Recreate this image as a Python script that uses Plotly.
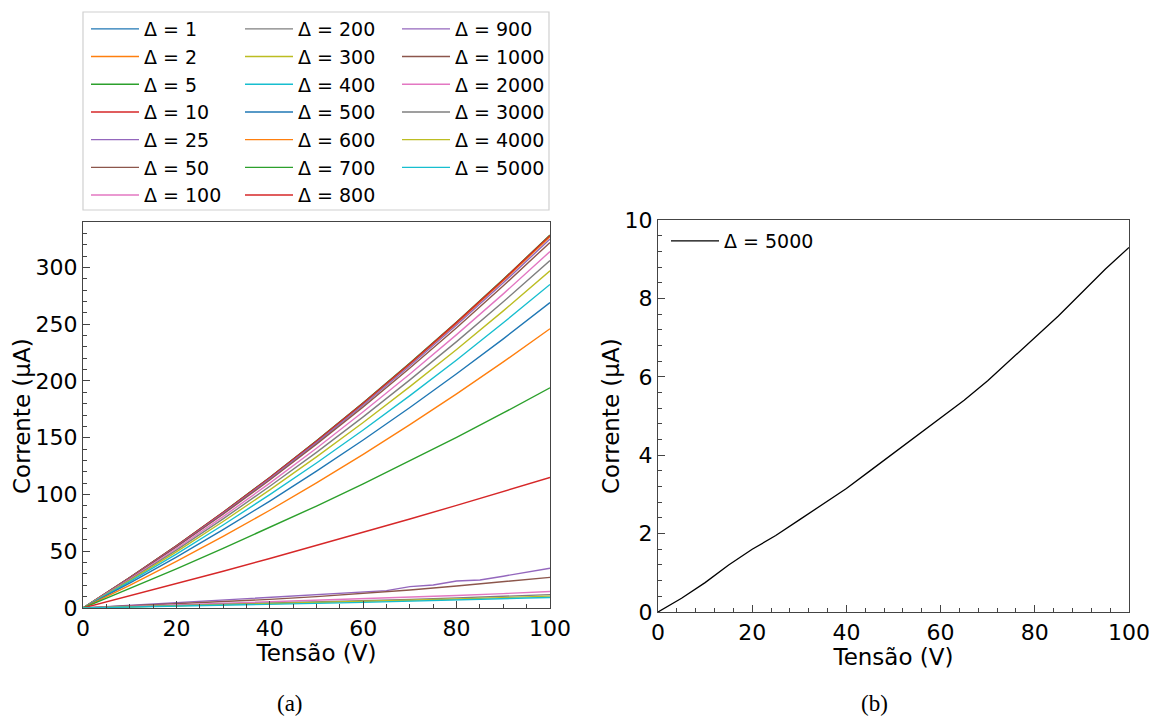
import plotly.graph_objects as go

W, H = 1152, 717

# ---------------- data ----------------
V10 = [0, 10, 20, 30, 40, 50, 60, 70, 80, 90, 100]
V5 = [0, 5, 10, 15, 20, 25, 30, 35, 40, 45, 50, 55, 60, 65, 70, 75, 80, 85, 90, 95, 100]

deltas = ["1", "2", "5", "10", "25", "50", "100", "200", "300", "400",
          "500", "600", "700", "800", "900", "1000", "2000", "3000", "4000", "5000"]

I_1 = [0, 26.7, 54.7, 84.1, 114.9, 147.0, 180.5, 215.3, 251.5, 289.1, 328.0]
I_2 = [0, 26.6, 54.5, 83.9, 114.5, 146.6, 179.9, 214.7, 250.7, 288.2, 327.0]
I_5 = [0, 26.7, 54.8, 84.3, 115.0, 147.2, 180.7, 215.7, 251.9, 289.5, 328.5]
I_10 = [0, 26.8, 54.8, 84.2, 115.0, 147.1, 180.6, 215.4, 251.6, 289.2, 328.2]
I_25 = [0, 26.4, 54.2, 83.4, 113.8, 145.7, 178.8, 213.4, 249.2, 286.4, 325.0]
I_50 = [0, 26.2, 53.7, 82.6, 112.8, 144.3, 177.2, 211.4, 246.9, 283.8, 322.0]
I_100 = [0, 25.5, 52.4, 80.5, 110.0, 140.7, 172.8, 206.1, 240.8, 276.7, 314.0]
I_200 = [0, 24.9, 51.0, 78.5, 107.2, 137.1, 168.4, 200.9, 234.6, 269.7, 306.0]
I_300 = [0, 24.1, 49.5, 76.2, 104.0, 133.1, 163.4, 195.0, 227.7, 261.7, 297.0]
I_400 = [0, 23.2, 47.5, 73.1, 99.8, 127.7, 156.8, 187.1, 218.5, 251.2, 285.0]
I_500 = [0, 21.9, 44.9, 69.0, 94.2, 120.6, 148.0, 176.6, 206.3, 237.1, 269.0]
I_600 = [0, 20.0, 41.0, 63.1, 86.1, 110.3, 135.3, 161.5, 188.6, 216.8, 246.0]
I_700 = [0, 17.0, 34.5, 52.5, 70.9, 89.8, 109.3, 129.5, 150.3, 171.8, 194.0]
I_800 = [0, 10.6, 21.4, 32.4, 43.6, 55.0, 66.6, 78.4, 90.4, 102.6, 115.0]
I_900 = [0, 1.2, 2.4, 3.6, 4.7, 5.9, 7.1, 8.3, 9.5, 10.7, 11.9, 13.1, 13.8,
         15.3, 18.8, 20.3, 23.8, 24.7, 28.0, 31.5, 35.0]
I_1000 = [0, 1.8, 3.7, 5.6, 7.6, 10.0, 12.8, 15.9, 19.4, 23.1, 27.0]
I_2000 = [0, 1.3, 2.6, 3.9, 5.2, 6.6, 8.0, 9.5, 11.0, 12.7, 14.5]
I_3000 = [0, 1.0, 2.1, 3.1, 4.2, 5.3, 6.4, 7.6, 8.9, 10.3, 11.8]
I_4000 = [0, 0.9, 1.9, 2.8, 3.8, 4.7, 5.7, 6.8, 7.9, 9.1, 10.5]
I_5000 = [0, 0.35, 0.75, 1.2, 1.6, 1.95, 2.35, 2.75, 3.15, 3.6, 4.05, 4.5,
          4.95, 5.4, 5.9, 6.45, 7.0, 7.55, 8.15, 8.75, 9.3]

series = [
    (V10, I_1), (V10, I_2), (V10, I_5), (V10, I_10), (V10, I_25), (V10, I_50),
    (V10, I_100), (V10, I_200), (V10, I_300), (V10, I_400), (V10, I_500),
    (V10, I_600), (V10, I_700), (V10, I_800), (V5, I_900), (V10, I_1000),
    (V10, I_2000), (V10, I_3000), (V10, I_4000), (V5, I_5000),
]

colors = ["#1f77b4", "#ff7f0e", "#2ca02c", "#d62728", "#9467bd",
          "#8c564b", "#e377c2", "#7f7f7f", "#bcbd22", "#17becf"]

# ---------------- helpers ----------------
def px(x):
    return x / W

def py(y):
    return 1 - y / H

FONT = "DejaVu Sans"

fig = go.Figure()

legend_names = ["legend", "legend2", "legend3"]
for i, ((xv, yv), d) in enumerate(zip(series, deltas)):
    fig.add_trace(go.Scatter(
        x=xv, y=yv, mode="lines", name=f"Δ = {d}",
        line=dict(color=colors[i % 10], width=1.4),
        xaxis="x", yaxis="y",
        legend=legend_names[i // 7],
    ))

fig.add_trace(go.Scatter(
    x=V5, y=I_5000, mode="lines", name="Δ = 5000",
    line=dict(color="black", width=1.3),
    xaxis="x2", yaxis="y2", legend="legend4",
))

axis_common = dict(
    showgrid=False, zeroline=False, showline=True, mirror=True,
    linecolor="#444", linewidth=1.2,
    ticks="inside", ticklen=7, tickwidth=1.2, tickcolor="#444",
    tickfont=dict(family=FONT, size=22, color="black"),
    automargin=False,
)

TITLE_FONT = dict(family=FONT, size=23, color="black")

leg_common = dict(
    font=dict(family=FONT, size=19, color="black"),
    bgcolor="rgba(0,0,0,0)", borderwidth=0,
    xanchor="left", yanchor="top", tracegroupgap=0,
    itemwidth=48,
)

fig.update_layout(
    width=W, height=H,
    margin=dict(l=0, r=0, t=0, b=0),
    paper_bgcolor="white", plot_bgcolor="white",
    showlegend=True,
    xaxis=dict(domain=[px(83), px(550)], range=[0, 100], anchor="y",
               dtick=20, minor=dict(dtick=5, ticks="inside", ticklen=4, tickcolor="#444"),
               title=dict(text="Tensão (V)", font=TITLE_FONT, standoff=3),
               **axis_common),
    yaxis=dict(domain=[py(608), py(222)], range=[0, 340], anchor="x",
               dtick=50, minor=dict(dtick=10, ticks="inside", ticklen=4, tickcolor="#444"),
               **axis_common),
    xaxis2=dict(domain=[px(658), px(1129)], range=[0, 100], anchor="y2",
                dtick=20, minor=dict(dtick=4, ticks="inside", ticklen=4, tickcolor="#444"),
                title=dict(text="Tensão (V)", font=TITLE_FONT, standoff=3),
                **axis_common),
    yaxis2=dict(domain=[py(612), py(220)], range=[0, 10], anchor="x2",
                dtick=2, minor=dict(dtick=0.4, ticks="inside", ticklen=4, tickcolor="#444"),
                **axis_common),
    legend=dict(x=px(86), y=py(10), **leg_common),
    legend2=dict(x=px(240), y=py(10), **leg_common),
    legend3=dict(x=px(397), y=py(10), **leg_common),
    legend4=dict(x=px(666), y=py(222), **leg_common),
    shapes=[dict(type="rect", xref="paper", yref="paper",
                 x0=px(83), x1=px(549), y0=py(210), y1=py(12),
                 line=dict(color="#d0d0d0", width=1.2), fillcolor="rgba(0,0,0,0)")],
    annotations=[
        dict(text="Corrente (µA)", x=px(22), y=py(416), xref="paper", yref="paper",
             showarrow=False, textangle=-90, font=TITLE_FONT,
             xanchor="center", yanchor="middle"),
        dict(text="Corrente (µA)", x=px(611), y=py(416), xref="paper", yref="paper",
             showarrow=False, textangle=-90, font=TITLE_FONT,
             xanchor="center", yanchor="middle"),
        dict(text="(a)", x=px(290), y=py(703), xref="paper", yref="paper",
             showarrow=False, font=dict(family="Liberation Serif", size=23, color="black"),
             xanchor="center", yanchor="middle"),
        dict(text="(b)", x=px(874), y=py(703), xref="paper", yref="paper",
             showarrow=False, font=dict(family="Liberation Serif", size=23, color="black"),
             xanchor="center", yanchor="middle"),
    ],
)

fig.write_html("out.html")
